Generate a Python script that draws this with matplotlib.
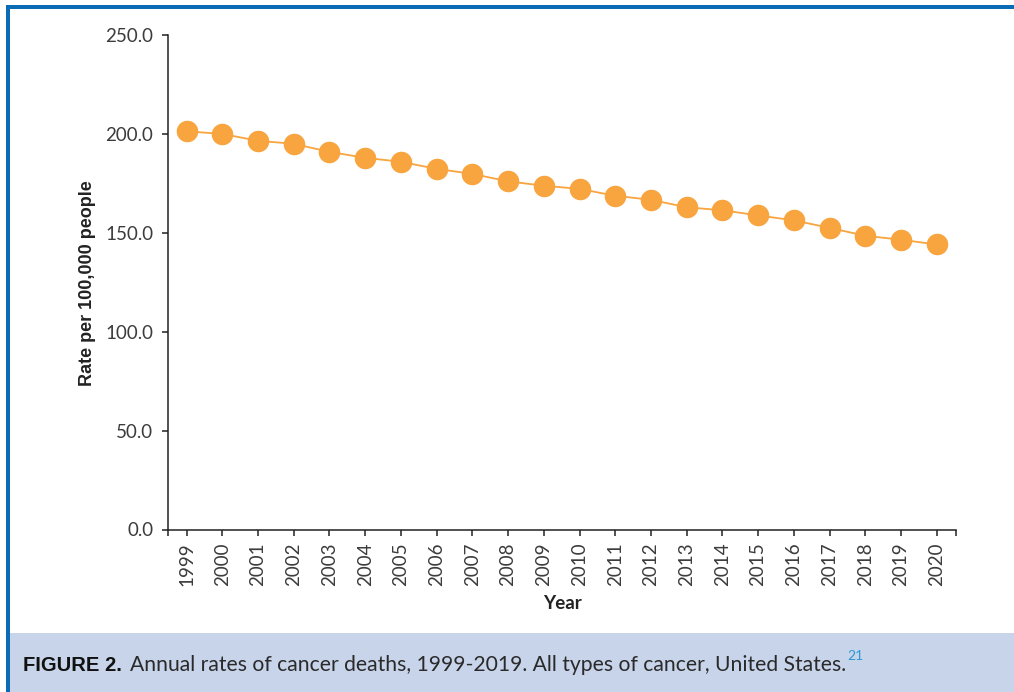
import matplotlib
matplotlib.use("Agg")
import matplotlib.pyplot as plt
from matplotlib.patches import Rectangle
from matplotlib.ticker import FixedLocator

years = ["1999", "2000", "2001", "2002", "2003", "2004", "2005", "2006", "2007", "2008",
         "2009", "2010", "2011", "2012", "2013", "2014", "2015", "2016", "2017", "2018",
         "2019", "2020"]
rates = [201.3, 200.0, 196.5, 195.0, 190.9, 187.9, 185.9, 182.3, 179.8, 176.0,
         173.8, 172.2, 168.7, 166.7, 162.9, 161.4, 158.8, 156.3, 152.5, 148.5,
         146.5, 144.1]
yticks = [0, 50, 100, 150, 200, 250]
ytick_labels = ["0.0", "50.0", "100.0", "150.0", "200.0", "250.0"]

W, H = 1014, 692
fig = plt.figure(figsize=(W / 100, H / 100), dpi=100)
fig.patch.set_facecolor("white")

orange = "#F8A43F"
dark = "#222222"
tickc = "#3C3C3C"

ax = fig.add_axes([168 / W, 1 - 529.5 / H, (956 - 168) / W, (529.5 - 35) / H])
x = list(range(len(years)))
ax.plot(x, rates, color=orange, lw=1.3, marker="o", ms=14.5, mfc=orange, mec=orange,
        zorder=3, clip_on=False)
ax.set_xlim(-0.52, len(years) - 1 + 0.54)
ax.set_ylim(0, 250)
ax.set_yticks(yticks)
ax.set_yticklabels(ytick_labels)
ax.set_xticks(x)
ax.set_xticklabels(years, rotation=90)
ax.xaxis.set_minor_locator(FixedLocator([-0.52, len(years) - 1 + 0.54]))
for s in ["top", "right"]:
    ax.spines[s].set_visible(False)
for s in ["left", "bottom"]:
    ax.spines[s].set_color(dark)
    ax.spines[s].set_linewidth(1.1)
ax.tick_params(axis="both", which="both", length=4.5, width=1.1, color=dark)
ax.tick_params(axis="y", pad=6)
ax.tick_params(axis="x", pad=5)
for lab in ax.get_yticklabels() + ax.get_xticklabels():
    lab.set_fontfamily("Lato")
    lab.set_fontweight("normal")
    lab.set_fontsize(13.5)
    lab.set_color(tickc)

ax.set_xlabel("Year", fontfamily="Lato", fontweight="bold", fontsize=13.5, color=dark, labelpad=6)
ax.set_ylabel("Rate per 100,000 people", fontfamily="Liberation Sans", fontweight="bold",
              fontsize=13, color=dark)
ax.yaxis.set_label_coords(-72 / (956 - 168), (529.5 - 283) / (529.5 - 35))

# frame
blue = "#0B6BB5"
fig.add_artist(Rectangle((9.3 / W, 0), 1 - 9.3 / W, 59 / H, transform=fig.transFigure,
                         facecolor="#C8D4EA", edgecolor="none", zorder=0))
fig.add_artist(Rectangle((6 / W, 0), 3.5 / W, 687 / H, transform=fig.transFigure,
                         facecolor=blue, edgecolor="none", zorder=1))
fig.add_artist(Rectangle((6 / W, 683 / H), 1 - 6 / W, 4.3 / H, transform=fig.transFigure,
                         facecolor=blue, edgecolor="none", zorder=1))

# caption
fig.canvas.draw()
renderer = fig.canvas.get_renderer()
base_y = 21 / H
t1 = fig.text(23 / W, base_y, "FIGURE 2.", fontfamily="Liberation Sans", fontweight="bold",
              fontsize=14.5, color="#111111", va="baseline")
bb = t1.get_window_extent(renderer)
t2 = fig.text(bb.x1 / W + 8 / W, base_y,
              "Annual rates of cancer deaths, 1999-2019. All types of cancer, United States.",
              fontfamily="Lato", fontweight="normal", fontsize=15.2, color="#2A2A2A", va="baseline")
bb2 = t2.get_window_extent(renderer)
fig.text(bb2.x1 / W + 1 / W, base_y + 11 / H, "21", fontfamily="Lato", fontweight="normal",
         fontsize=10, color="#2A9AD0", va="baseline")

fig.savefig("out.png", dpi=100, facecolor="white")
